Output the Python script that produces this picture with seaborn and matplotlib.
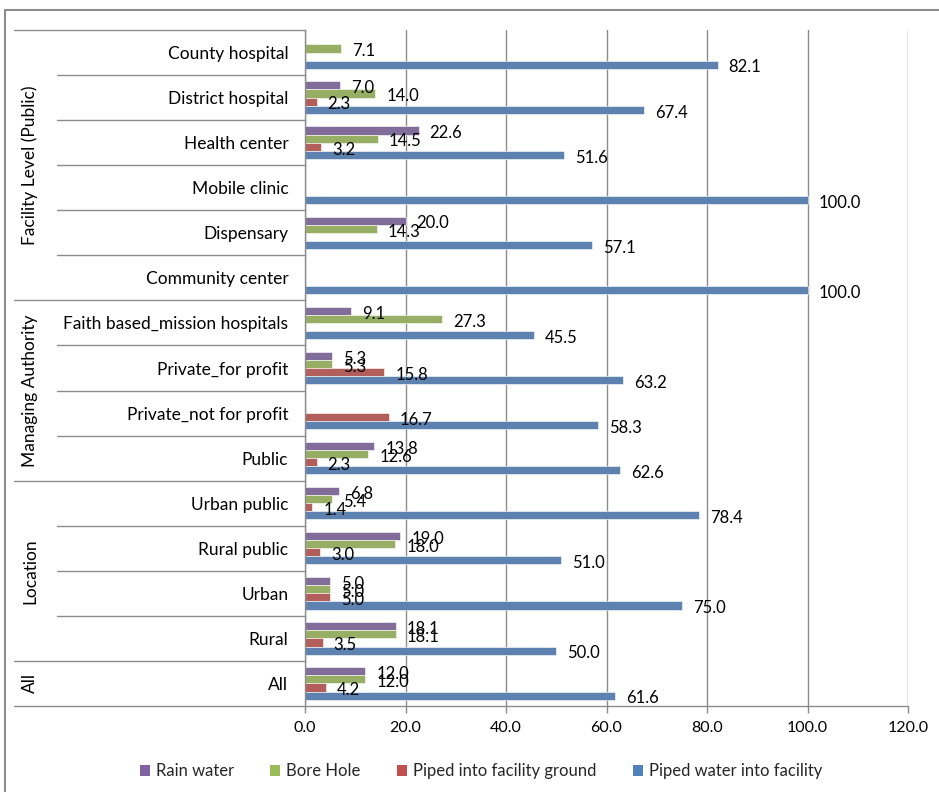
import numpy as np
import pandas as pd
import matplotlib
matplotlib.use("Agg")
import matplotlib.pyplot as plt
from matplotlib.patches import Patch
from matplotlib.lines import Line2D
import seaborn as sns

# ---- data -------------------------------------------------------------
categories = [
    "County hospital", "District hospital", "Health center", "Mobile clinic",
    "Dispensary", "Community center", "Faith based_mission hospitals",
    "Private_for profit", "Private_not for profit", "Public",
    "Urban public", "Rural public", "Urban", "Rural", "All",
]
rain_water = [np.nan, 7.0, 22.6, np.nan, 20.0, np.nan, 9.1, 5.3, np.nan, 13.8,
              6.8, 19.0, 5.0, 18.1, 12.0]
bore_hole = [7.1, 14.0, 14.5, np.nan, 14.3, np.nan, 27.3, 5.3, np.nan, 12.6,
             5.4, 18.0, 5.0, 18.1, 12.0]
piped_ground = [np.nan, 2.3, 3.2, np.nan, np.nan, np.nan, np.nan, 15.8, 16.7, 2.3,
                1.4, 3.0, 5.0, 3.5, 4.2]
piped_facility = [82.1, 67.4, 51.6, 100.0, 57.1, 100.0, 45.5, 63.2, 58.3, 62.6,
                  78.4, 51.0, 75.0, 50.0, 61.6]

series_names = ["Rain water", "Bore Hole", "Piped into facility ground",
                "Piped water into facility"]
series_colors = ["#8064A2", "#9BBB59", "#C0504D", "#4F81BD"]

groups = ["Facility Level (Public)", "Managing Authority", "Location", "All"]
group_sizes = [6, 4, 4, 1]

x_ticks = [0, 20, 40, 60, 80, 100, 120]

# ---- tidy frame -------------------------------------------------------
series_values = [rain_water, bore_hole, piped_ground, piped_facility]
rows = []
for name, vals in zip(series_names, series_values):
    for cat, v in zip(categories, vals):
        rows.append({"category": cat, "source": name, "value": v})
df = pd.DataFrame(rows).dropna()

# ---- figure -----------------------------------------------------------
sns.set_theme(style="white")
plt.rcParams["font.family"] = ["Lato", "DejaVu Sans"]
FS_CAT = 12.5
FS_VAL = 12
FS_TICK = 11.5
FS_LEG = 12.0
GRID = "#8c8c8c"

W, H = 939, 792
fig = plt.figure(figsize=(W / 100, H / 100), dpi=100)
ax_left, ax_right, ax_top, ax_bottom = 305, 908, 30, 706
ax = fig.add_axes([ax_left / W, 1 - ax_bottom / H,
                   (ax_right - ax_left) / W, (ax_bottom - ax_top) / H])

sns.barplot(data=df, y="category", x="value", hue="source",
            order=categories, hue_order=series_names,
            palette=series_colors, orient="h", width=0.72,
            errorbar=None, ax=ax, legend=False,
            edgecolor="white", linewidth=0.4)

ax.set_xlim(0, 120)
ax.set_ylim(len(categories) - 0.5, -0.5)
ax.set_xticks(x_ticks)
ax.set_xticklabels([f"{t:.1f}" for t in x_ticks], fontsize=FS_TICK, color="black")
ax.set_yticks(range(len(categories)))
ax.set_yticklabels(categories, fontsize=FS_CAT, color="black")
ax.tick_params(axis="y", length=0, pad=12)
ax.tick_params(axis="x", length=5, width=1, color=GRID, pad=6, direction="out",
               bottom=True)
ax.set_xlabel("")
ax.set_ylabel("")

# vertical gridlines
ax.xaxis.grid(True, color=GRID, linewidth=1)
ax.yaxis.grid(False)
ax.set_axisbelow(True)
for s in ["top", "right"]:
    ax.spines[s].set_visible(False)
for s in ["left", "bottom"]:
    ax.spines[s].set_color(GRID)
    ax.spines[s].set_linewidth(1)

# value labels at bar ends, set a touch below the bar centre
for cont in ax.containers:
    labels = ax.bar_label(cont, fmt="%.1f", padding=8, fontsize=FS_VAL,
                          color="black")
    for t in labels:
        t.xyann = (8, -2)

# category separators and group labels in the left margin
ytrans = ax.get_yaxis_transform()
ax_w = ax_right - ax_left
x_group = (14 - ax_left) / ax_w
x_row = (57 - ax_left) / ax_w
x_glabel = (30 - ax_left) / ax_w

boundaries_group = [-0.5]
acc = -0.5
for n in group_sizes:
    acc += n
    boundaries_group.append(acc)
for i in range(len(categories) + 1):
    b = i - 0.5
    x0 = x_group if b in boundaries_group else x_row
    ax.add_line(Line2D([x0, 0], [b, b], transform=ytrans, color=GRID,
                       linewidth=1, clip_on=False))

start = 0
for name, n in zip(groups, group_sizes):
    center = start + (n - 1) / 2
    ax.text(x_glabel, center, name, transform=ytrans, rotation=90,
            ha="center", va="center", fontsize=FS_CAT, color="black")
    start += n

# legend along the bottom
handles = [Patch(facecolor=c, edgecolor="none") for c in series_colors]
fig.legend(handles, series_names, loc="center", ncol=4, frameon=False,
           bbox_to_anchor=(481 / W, 1 - 771 / H), fontsize=FS_LEG,
           handlelength=0.6, handleheight=0.65, handletextpad=0.35,
           columnspacing=2.2)

# chart-area border (top and left edges)
fig.add_artist(Line2D([5 / W, 1], [1 - 10 / H, 1 - 10 / H],
                      transform=fig.transFigure, color=GRID, linewidth=1.5))
fig.add_artist(Line2D([5 / W, 5 / W], [0, 1 - 10 / H],
                      transform=fig.transFigure, color=GRID, linewidth=1.5))

fig.savefig("out.png", dpi=100)
